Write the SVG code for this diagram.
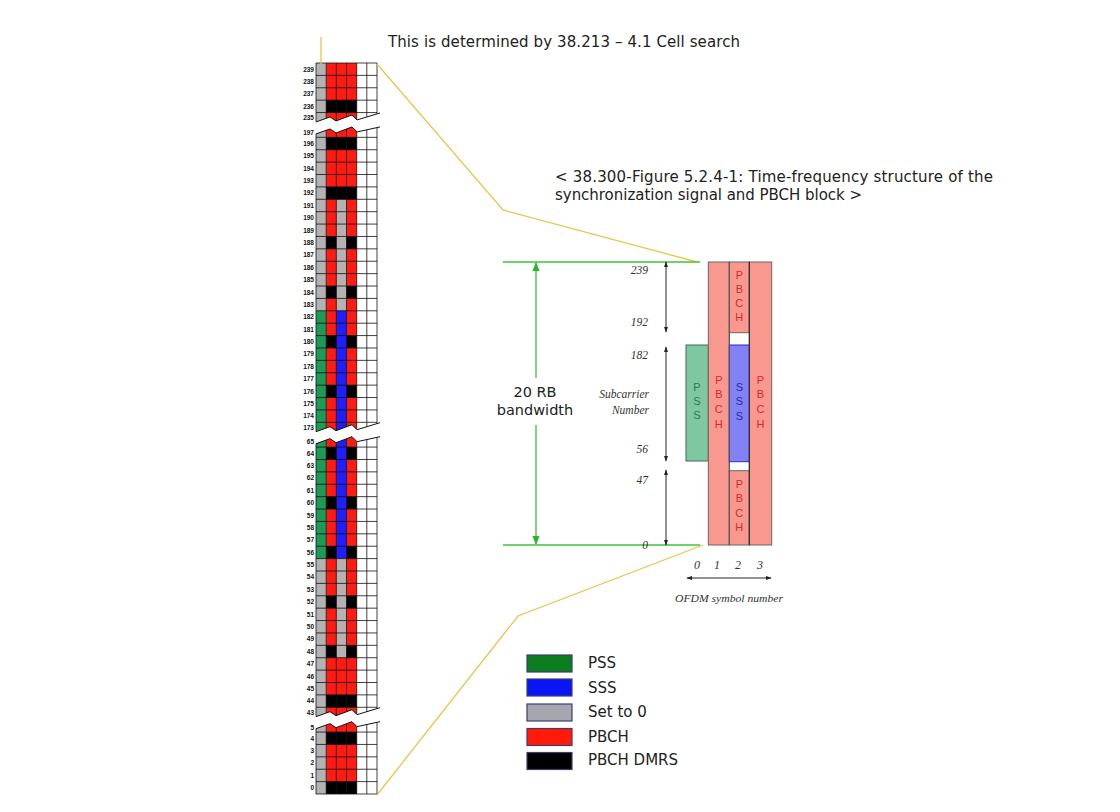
<svg xmlns="http://www.w3.org/2000/svg" width="1120" height="812" viewBox="0 0 1120 812">
<defs>
<style>
.t{font-family:"DejaVu Sans",Verdana,sans-serif;fill:#222}
.lbl{font-family:"Liberation Sans",Arial,sans-serif;font-weight:bold;font-size:6.5px;text-anchor:end;fill:#111}
.it{font-family:"Liberation Serif","Times New Roman",serif;font-style:italic;fill:#333}
.pb{font-family:"Liberation Sans",Arial,sans-serif;font-size:11px;fill:#d42b2b;text-anchor:middle}
.grid{fill:none;stroke:#111;stroke-width:0.8}
.ylw{fill:none;stroke:#efc24a;stroke-width:1.3}
.grn{stroke:#3cc43c;stroke-width:1.3;fill:none}
.blk{stroke:#222;stroke-width:1;fill:none}
.sw{stroke:#3e3e6e;stroke-width:1.2}
.gy{fill:#b3b3b3}.rd{fill:#ff1a12}.bk{fill:#000}.gr{fill:#1d9a55}.bl{fill:#1e1eff}
</style>
<marker id="ga" viewBox="0 0 10 10" refX="9" refY="5" markerUnits="userSpaceOnUse" markerWidth="9" markerHeight="9" orient="auto-start-reverse"><path d="M0,1 L10,5 L0,9 z" fill="#2bb52b"/></marker>
<marker id="ka" viewBox="0 0 10 10" refX="9" refY="5" markerUnits="userSpaceOnUse" markerWidth="6" markerHeight="6" orient="auto-start-reverse"><path d="M0,1.5 L10,5 L0,8.5 z" fill="#222"/></marker>
<g id="brk">
<polygon points="315,-3 330,-8 336,-4 352,-10 357,-5 380,-12 380,2 357,7 352,2 336,8 330,4 315,9" fill="#fff"/>
<polyline points="316,-3 330,-8 336,-4 352,-10 357,-5 380,-12" fill="none" stroke="#111" stroke-width="1"/>
<polyline points="316,9 330,4 336,8 352,2 357,7 380,2" fill="none" stroke="#111" stroke-width="1"/>
</g>
</defs>
<rect width="1120" height="812" fill="#fff"/>

<text class="t" x="388" y="47" font-size="15" textLength="352">This is determined by 38.213 – 4.1 Cell search</text>

<g id="ssb-grid">
<rect class="gy" x="316" y="63" width="10.2" height="731"/>
<rect class="gr" x="316" y="310.8" width="10.2" height="247.8"/>
<rect class="rd" x="326.2" y="63" width="30.5" height="731"/>
<rect class="gy" x="336.3" y="199.29" width="10.2" height="111.51"/>
<rect class="bl" x="336.3" y="310.8" width="10.2" height="247.8"/>
<rect class="gy" x="336.3" y="558.6" width="10.2" height="99.12"/>
<g class="bk">
<rect x="326.2" y="100.17" width="30.5" height="12.39"/>
<rect x="326.2" y="137.34" width="30.5" height="12.39"/>
<rect x="326.2" y="186.9" width="30.5" height="12.39"/>
<rect x="326.2" y="694.89" width="30.5" height="12.39"/>
<rect x="326.2" y="732.06" width="30.5" height="12.39"/>
<rect x="326.2" y="781.62" width="30.5" height="12.39"/>
<rect x="326.2" y="236.46" width="10.1" height="12.39"/><rect x="346.5" y="236.46" width="10.2" height="12.39"/>
<rect x="326.2" y="286.02" width="10.1" height="12.39"/><rect x="346.5" y="286.02" width="10.2" height="12.39"/>
<rect x="326.2" y="335.58" width="10.1" height="12.39"/><rect x="346.5" y="335.58" width="10.2" height="12.39"/>
<rect x="326.2" y="385.14" width="10.1" height="12.39"/><rect x="346.5" y="385.14" width="10.2" height="12.39"/>
<rect x="326.2" y="447.09" width="10.1" height="12.39"/><rect x="346.5" y="447.09" width="10.2" height="12.39"/>
<rect x="326.2" y="496.65" width="10.1" height="12.39"/><rect x="346.5" y="496.65" width="10.2" height="12.39"/>
<rect x="326.2" y="546.21" width="10.1" height="12.39"/><rect x="346.5" y="546.21" width="10.2" height="12.39"/>
<rect x="326.2" y="595.77" width="10.1" height="12.39"/><rect x="346.5" y="595.77" width="10.2" height="12.39"/>
<rect x="326.2" y="645.33" width="10.1" height="12.39"/><rect x="346.5" y="645.33" width="10.2" height="12.39"/>
</g>
<path class="grid" d="M316,63V794M326.2,63V794M336.3,63V794M346.5,63V794M356.7,63V794M366.8,63V794M377,63V794
M316,63H377M316,75.39H377M316,87.78H377M316,100.17H377M316,112.56H377M316,124.95H377M316,137.34H377M316,149.73H377M316,162.12H377M316,174.51H377
M316,186.9H377M316,199.29H377M316,211.68H377M316,224.07H377M316,236.46H377M316,248.85H377M316,261.24H377M316,273.63H377M316,286.02H377M316,298.41H377
M316,310.8H377M316,323.19H377M316,335.58H377M316,347.97H377M316,360.36H377M316,372.75H377M316,385.14H377M316,397.53H377M316,409.92H377M316,422.31H377
M316,434.7H377M316,447.09H377M316,459.48H377M316,471.87H377M316,484.26H377M316,496.65H377M316,509.04H377M316,521.43H377M316,533.82H377M316,546.21H377
M316,558.6H377M316,570.99H377M316,583.38H377M316,595.77H377M316,608.16H377M316,620.55H377M316,632.94H377M316,645.33H377M316,657.72H377M316,670.11H377
M316,682.5H377M316,694.89H377M316,707.28H377M316,719.67H377M316,732.06H377M316,744.45H377M316,756.84H377M316,769.23H377M316,781.62H377M316,794.01H377"/>
<use href="#brk" transform="translate(0,124.95)"/>
<use href="#brk" transform="translate(0,434.7)"/>
<use href="#brk" transform="translate(0,719.67)"/>
<g class="lbl">
<text x="314" y="71.5">239</text><text x="314" y="83.89">238</text><text x="314" y="96.28">237</text><text x="314" y="108.67">236</text><text x="314" y="119.5">235</text>
<text x="314" y="134.5">197</text><text x="314" y="145.84">196</text><text x="314" y="158.23">195</text><text x="314" y="170.62">194</text><text x="314" y="183.01">193</text>
<text x="314" y="195.4">192</text><text x="314" y="207.79">191</text><text x="314" y="220.18">190</text><text x="314" y="232.57">189</text><text x="314" y="244.96">188</text>
<text x="314" y="257.35">187</text><text x="314" y="269.74">186</text><text x="314" y="282.13">185</text><text x="314" y="294.52">184</text><text x="314" y="306.91">183</text>
<text x="314" y="319.3">182</text><text x="314" y="331.69">181</text><text x="314" y="344.08">180</text><text x="314" y="356.47">179</text><text x="314" y="368.86">178</text>
<text x="314" y="381.25">177</text><text x="314" y="393.64">176</text><text x="314" y="406.03">175</text><text x="314" y="418.42">174</text><text x="314" y="429.5">173</text>
<text x="314" y="444.2">65</text><text x="314" y="455.59">64</text><text x="314" y="467.98">63</text><text x="314" y="480.37">62</text><text x="314" y="492.76">61</text>
<text x="314" y="505.15">60</text><text x="314" y="517.54">59</text><text x="314" y="529.93">58</text><text x="314" y="542.32">57</text><text x="314" y="554.71">56</text>
<text x="314" y="567.1">55</text><text x="314" y="579.49">54</text><text x="314" y="591.88">53</text><text x="314" y="604.27">52</text><text x="314" y="616.66">51</text>
<text x="314" y="629.05">50</text><text x="314" y="641.44">49</text><text x="314" y="653.83">48</text><text x="314" y="666.22">47</text><text x="314" y="678.61">46</text>
<text x="314" y="691">45</text><text x="314" y="703.39">44</text><text x="314" y="714.5">43</text><text x="314" y="729.5">5</text><text x="314" y="740.56">4</text>
<text x="314" y="752.95">3</text><text x="314" y="765.34">2</text><text x="314" y="777.73">1</text><text x="314" y="790.12">0</text>
</g>
</g>

<g id="connectors">
<line class="ylw" x1="321" y1="37" x2="321" y2="64"/>
<polyline class="ylw" points="377,64 503,210 697,262"/>
<polyline class="ylw" points="377,795 518,616 703,545"/>
<line class="grn" x1="503" y1="262" x2="700" y2="262"/>
<line class="grn" x1="503" y1="545" x2="700" y2="545"/>
<line class="grn" x1="536" y1="378" x2="536" y2="263" marker-end="url(#ga)"/>
<line class="grn" x1="536" y1="425" x2="536" y2="544" marker-end="url(#ga)"/>
<line class="blk" x1="666" y1="262" x2="666" y2="332" marker-start="url(#ka)" marker-end="url(#ka)"/>
<line class="blk" x1="666" y1="347" x2="666" y2="461" marker-start="url(#ka)" marker-end="url(#ka)"/>
<line class="blk" x1="666" y1="470" x2="666" y2="545" marker-start="url(#ka)" marker-end="url(#ka)"/>
<line class="blk" x1="687" y1="578" x2="771" y2="578" marker-start="url(#ka)" marker-end="url(#ka)"/>
</g>

<g id="caption">
<text class="t" x="555" y="182" font-size="15" textLength="438">&lt; 38.300-Figure 5.2.4-1: Time-frequency structure of the</text>
<text class="t" x="555" y="200" font-size="15" textLength="307">synchronization signal and PBCH block &gt;</text>
</g>

<g id="bandwidth-label">
<text class="t" x="535" y="397" font-size="14.5" text-anchor="middle">20 RB</text>
<text class="t" x="535" y="415" font-size="14.5" text-anchor="middle">bandwidth</text>
</g>

<g id="axis-labels" class="it" font-size="11.5" text-anchor="end">
<text x="648" y="274">239</text>
<text x="648" y="326">192</text>
<text x="648" y="359">182</text>
<text x="648" y="453">56</text>
<text x="648" y="484">47</text>
<text x="648" y="549">0</text>
<text x="649" y="398">Subcarrier</text>
<text x="649" y="414">Number</text>
</g>

<g id="pss">
<rect x="686" y="345" width="22.3" height="116" fill="#7fc7a0" stroke="#3f6e57" stroke-width="1"/>
<text class="pb" style="fill:#2d7a4d"><tspan x="697" y="391">P</tspan><tspan x="697" y="405">S</tspan><tspan x="697" y="419">S</tspan></text>
</g>
<g id="pbch-sym1">
<rect x="708.3" y="262" width="21" height="283" fill="#f9988f" stroke="#666" stroke-width="1"/>
<text class="pb"><tspan x="718.8" y="384">P</tspan><tspan x="718.8" y="398">B</tspan><tspan x="718.8" y="413">C</tspan><tspan x="718.8" y="428">H</tspan></text>
</g>
<g id="pbch-sym2-top">
<rect x="729.3" y="262" width="20" height="70.7" fill="#f9988f" stroke="#666" stroke-width="1"/>
<text class="pb"><tspan x="739.3" y="279">P</tspan><tspan x="739.3" y="293">B</tspan><tspan x="739.3" y="307">C</tspan><tspan x="739.3" y="321">H</tspan></text>
</g>
<g id="sss">
<rect x="729.3" y="345" width="20" height="116.7" fill="#8282f6" stroke="#2a2ac0" stroke-width="1"/>
<text class="pb" style="fill:#2a2aa0"><tspan x="739.3" y="391">S</tspan><tspan x="739.3" y="405">S</tspan><tspan x="739.3" y="420">S</tspan></text>
</g>
<g id="pbch-sym2-bottom">
<rect x="729.3" y="470.7" width="20" height="74.3" fill="#f9988f" stroke="#666" stroke-width="1"/>
<text class="pb"><tspan x="739.3" y="488">P</tspan><tspan x="739.3" y="502">B</tspan><tspan x="739.3" y="517">C</tspan><tspan x="739.3" y="531">H</tspan></text>
</g>
<g id="pbch-sym3">
<rect x="749.3" y="262" width="22.4" height="283" fill="#f9988f" stroke="#666" stroke-width="1"/>
<text class="pb"><tspan x="760.5" y="384">P</tspan><tspan x="760.5" y="398">B</tspan><tspan x="760.5" y="413">C</tspan><tspan x="760.5" y="428">H</tspan></text>
</g>
<line x1="729.3" y1="262" x2="729.3" y2="545" stroke="#555" stroke-width="1"/>
<line x1="749.3" y1="262" x2="749.3" y2="545" stroke="#222" stroke-width="1"/>

<g id="symbol-axis" class="it" font-size="12" text-anchor="middle">
<text x="697" y="569">0</text>
<text x="717" y="569">1</text>
<text x="738" y="569">2</text>
<text x="760" y="569">3</text>
<text x="729" y="602" font-size="11" textLength="108" lengthAdjust="spacingAndGlyphs">OFDM symbol number</text>
</g>

<g id="legend">
<g id="lg-pss"><rect class="sw" x="527" y="655" width="45" height="17" fill="#0b7d1f"/><text class="t" x="588" y="668" font-size="15">PSS</text></g>
<g id="lg-sss"><rect class="sw" x="527" y="679" width="45" height="17" fill="#0a14f5"/><text class="t" x="588" y="693" font-size="15">SSS</text></g>
<g id="lg-zero"><rect class="sw" x="527" y="704" width="45" height="17" fill="#a6a6ae"/><text class="t" x="588" y="717" font-size="15">Set to 0</text></g>
<g id="lg-pbch"><rect class="sw" x="527" y="728.5" width="45" height="17" fill="#ff1a0a"/><text class="t" x="588" y="742" font-size="15">PBCH</text></g>
<g id="lg-dmrs"><rect class="sw" x="527" y="752.5" width="45" height="17" fill="#000"/><text class="t" x="588" y="765" font-size="15">PBCH DMRS</text></g>
</g>
</svg>
